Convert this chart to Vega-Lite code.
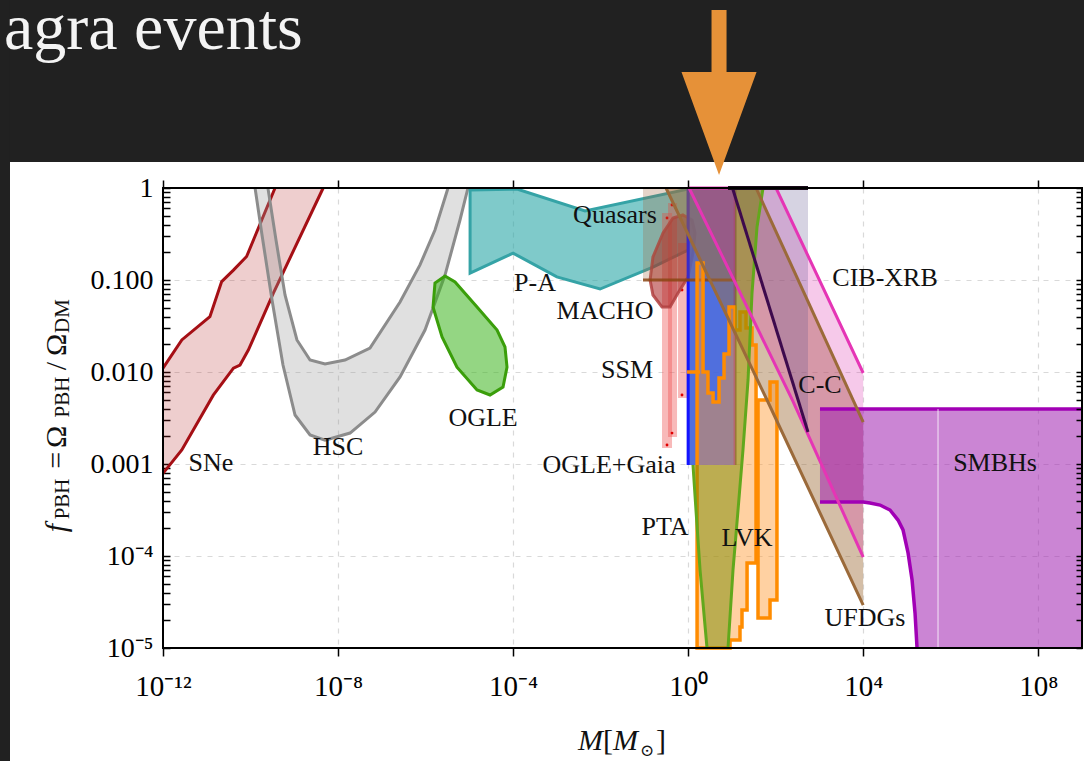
{
  "$schema": "https://vega.github.io/schema/vega-lite/v6.json",
  "width": 919,
  "height": 460,
  "autosize": {"type": "none"},
  "padding": {"left": 163, "top": 188, "right": 2, "bottom": 113},
  "background": "#ffffff",
  "config": {"view": {"stroke": null}, "font": "Liberation Serif"},
  "datasets": {
    "backdrop": [
      {"M": 1e-17, "M2": 1e12, "f": 1.917, "f2": 1e6},
      {"M": 1e-17, "M2": 3.19e-16, "f": 1e-9, "f2": 1e6}
    ],
    "sne": [
      {"g": "hi", "i": 1, "M": 1e-12, "f": 0.011},
      {"g": "hi", "i": 2, "M": 2.69e-12, "f": 0.0223},
      {"g": "hi", "i": 3, "M": 1.18e-11, "f": 0.0399},
      {"g": "hi", "i": 4, "M": 2.19e-11, "f": 0.096},
      {"g": "hi", "i": 5, "M": 4.07e-11, "f": 0.128},
      {"g": "hi", "i": 6, "M": 8.13e-11, "f": 0.18},
      {"g": "hi", "i": 7, "M": 3.63e-10, "f": 1},
      {"g": "lo", "i": 8, "M": 4.57e-9, "f": 1},
      {"g": "lo", "i": 9, "M": 3.31e-10, "f": 0.0716},
      {"g": "lo", "i": 10, "M": 8.91e-11, "f": 0.0173},
      {"g": "lo", "i": 11, "M": 5.75e-11, "f": 0.0119},
      {"g": "lo", "i": 12, "M": 4.07e-11, "f": 0.011},
      {"g": "lo", "i": 13, "M": 1.41e-11, "f": 0.0056},
      {"g": "lo", "i": 14, "M": 2.69e-12, "f": 0.00142},
      {"g": "lo", "i": 15, "M": 1e-12, "f": 0.00079}
    ],
    "hsc": [
      {"g": "a", "i": 1, "M": 1.27e-10, "f": 1},
      {"g": "a", "i": 2, "M": 1.83e-10, "f": 0.308},
      {"g": "a", "i": 3, "M": 3.1e-10, "f": 0.0607},
      {"g": "a", "i": 4, "M": 5.52e-10, "f": 0.0119},
      {"g": "a", "i": 5, "M": 1.04e-9, "f": 0.00341},
      {"g": "a", "i": 6, "M": 2.29e-9, "f": 0.00207},
      {"g": "a", "i": 7, "M": 5.04e-9, "f": 0.00182},
      {"g": "a", "i": 8, "M": 1.88e-8, "f": 0.00217},
      {"g": "a", "i": 9, "M": 7.0e-8, "f": 0.00367},
      {"g": "a", "i": 10, "M": 2.61e-7, "f": 0.00883},
      {"g": "a", "i": 11, "M": 9.7e-7, "f": 0.0286},
      {"g": "a", "i": 12, "M": 2.78e-6, "f": 0.113},
      {"g": "a", "i": 13, "M": 6.12e-6, "f": 0.449},
      {"g": "a", "i": 14, "M": 9.3e-6, "f": 1},
      {"g": "b", "i": 15, "M": 3.26e-6, "f": 1},
      {"g": "b", "i": 16, "M": 1.64e-6, "f": 0.349},
      {"g": "b", "i": 17, "M": 7.46e-7, "f": 0.146},
      {"g": "b", "i": 18, "M": 2.61e-7, "f": 0.0577},
      {"g": "b", "i": 19, "M": 5.37e-8, "f": 0.0182},
      {"g": "b", "i": 20, "M": 1.44e-8, "f": 0.0135},
      {"g": "b", "i": 21, "M": 5.04e-9, "f": 0.0122},
      {"g": "b", "i": 22, "M": 2.29e-9, "f": 0.0135},
      {"g": "b", "i": 23, "M": 1.15e-9, "f": 0.0223},
      {"g": "b", "i": 24, "M": 6.14e-10, "f": 0.0687},
      {"g": "b", "i": 25, "M": 3.82e-10, "f": 0.272},
      {"g": "b", "i": 26, "M": 2.5e-10, "f": 1}
    ],
    "ogle": [
      {"i": 1, "M": 2.78e-6, "f": 0.1104},
      {"i": 2, "M": 4.71e-6, "f": 0.0951},
      {"i": 3, "M": 1.5e-5, "f": 0.0509},
      {"i": 4, "M": 4.3e-5, "f": 0.0286},
      {"i": 5, "M": 6.53e-5, "f": 0.0187},
      {"i": 6, "M": 7.26e-5, "f": 0.0113},
      {"i": 7, "M": 5.89e-5, "f": 0.00687},
      {"i": 8, "M": 2.97e-5, "f": 0.00562},
      {"i": 9, "M": 1.5e-5, "f": 0.00637},
      {"i": 10, "M": 5.22e-6, "f": 0.0113},
      {"i": 11, "M": 2.38e-6, "f": 0.024},
      {"i": 12, "M": 1.48e-6, "f": 0.0509},
      {"i": 13, "M": 1.64e-6, "f": 0.0927}
    ],
    "quasars": [
      {"i": 1, "M": 1.04e-5, "f": 0.95},
      {"i": 2, "M": 1.23e-4, "f": 0.975},
      {"i": 3, "M": 4.4e-3, "f": 0.562},
      {"i": 4, "M": 1.0, "f": 0.975},
      {"i": 5, "M": 1.0, "f": 0.212},
      {"i": 6, "M": 0.157, "f": 0.138},
      {"i": 7, "M": 9.7e-3, "f": 0.0798},
      {"i": 8, "M": 1.0e-3, "f": 0.108},
      {"i": 9, "M": 1.0e-4, "f": 0.196},
      {"i": 10, "M": 1.04e-5, "f": 0.119}
    ],
    "ssm": [
      {"M": 0.253, "M2": 0.428, "f": 0.00149, "f2": 0.535},
      {"M": 0.347, "M2": 0.557, "f": 0.00197, "f2": 0.687},
      {"M": 0.588, "M2": 0.942, "f": 0.00521, "f2": 0.252}
    ],
    "ssm_dots": [
      {"M": 0.428, "f": 0.653},
      {"M": 0.329, "f": 0.472},
      {"M": 0.724, "f": 0.0778},
      {"M": 0.724, "f": 0.00562},
      {"M": 0.428, "f": 0.00217},
      {"M": 0.329, "f": 0.00161}
    ],
    "macho": [
      {"i": 1, "M": 0.764, "f": 0.509},
      {"i": 2, "M": 1.23, "f": 0.449},
      {"i": 3, "M": 1.44, "f": 0.324},
      {"i": 4, "M": 1.29, "f": 0.196},
      {"i": 5, "M": 0.993, "f": 0.108},
      {"i": 6, "M": 0.588, "f": 0.0723},
      {"i": 7, "M": 0.385, "f": 0.0509},
      {"i": 8, "M": 0.253, "f": 0.0509},
      {"i": 9, "M": 0.157, "f": 0.0687},
      {"i": 10, "M": 0.135, "f": 0.1},
      {"i": 11, "M": 0.157, "f": 0.178},
      {"i": 12, "M": 0.267, "f": 0.324},
      {"i": 13, "M": 0.451, "f": 0.472}
    ],
    "gaia": [{"M": 1, "M2": 11.8, "f": 0.000975, "f2": 1}],
    "gaia_edges": [
      {"g": "left", "M": 1, "f": 0.000975, "f2": 1},
      {"g": "right", "M": 11.8, "f": 0.000975, "f2": 1}
    ],
    "eros": [{"M": 0.093, "M2": 11.8, "f": 0.1, "f2": 1}],
    "ufdg": [
      {"g": "lo", "i": 1, "M": 0.312, "f": 1},
      {"g": "lo", "i": 2, "M": 63.5, "f": 0.00496},
      {"g": "lo", "i": 3, "M": 1e4, "f": 2.93e-5},
      {"g": "hi", "i": 4, "M": 1e4, "f": 0.00286},
      {"g": "hi", "i": 5, "M": 35.6, "f": 1}
    ],
    "cib": [
      {"g": "lo", "i": 1, "M": 1.05, "f": 1},
      {"g": "lo", "i": 2, "M": 249, "f": 0.0048},
      {"g": "lo", "i": 3, "M": 1e4, "f": 9.75e-5},
      {"g": "hi", "i": 4, "M": 1e4, "f": 0.00975},
      {"g": "hi", "i": 5, "M": 102, "f": 1},
      {"g": "hi", "i": 6, "M": 1.05, "f": 1}
    ],
    "cc": [
      {"i": 1, "M": 10.3, "f": 1},
      {"i": 2, "M": 548, "f": 1},
      {"i": 3, "M": 548, "f": 0.00223}
    ],
    "cc_line": [
      {"i": 1, "M": 10.3, "f": 1},
      {"i": 2, "M": 548, "f": 0.00223}
    ],
    "top_bar": [
      {"i": 1, "M": 8.15, "f": 1},
      {"i": 2, "M": 548, "f": 1}
    ],
    "lvk": [
      {"g": "main", "i": 1, "M": 1.6, "f": 0.153},
      {"g": "main", "i": 2, "M": 2.19, "f": 0.153},
      {"g": "main", "i": 3, "M": 2.19, "f": 0.01},
      {"g": "main", "i": 4, "M": 2.84, "f": 0.01},
      {"g": "main", "i": 5, "M": 2.84, "f": 0.00591},
      {"g": "main", "i": 6, "M": 3.71, "f": 0.00591},
      {"g": "main", "i": 7, "M": 3.71, "f": 0.00472},
      {"g": "main", "i": 8, "M": 5.08, "f": 0.00472},
      {"g": "main", "i": 9, "M": 5.08, "f": 0.00861},
      {"g": "main", "i": 10, "M": 6.61, "f": 0.00861},
      {"g": "main", "i": 11, "M": 6.61, "f": 0.0157},
      {"g": "main", "i": 12, "M": 8.59, "f": 0.0157},
      {"g": "main", "i": 13, "M": 8.59, "f": 0.0509},
      {"g": "main", "i": 14, "M": 11.78, "f": 0.0509},
      {"g": "main", "i": 15, "M": 11.78, "f": 0.0286},
      {"g": "main", "i": 16, "M": 15.3, "f": 0.0286},
      {"g": "main", "i": 17, "M": 15.3, "f": 0.0449},
      {"g": "main", "i": 18, "M": 21.0, "f": 0.0449},
      {"g": "main", "i": 19, "M": 21.0, "f": 0.0301},
      {"g": "main", "i": 20, "M": 28.8, "f": 0.0301},
      {"g": "main", "i": 21, "M": 28.8, "f": 0.0197},
      {"g": "main", "i": 22, "M": 35.6, "f": 0.0197},
      {"g": "main", "i": 23, "M": 35.6, "f": 8.39e-5},
      {"g": "main", "i": 24, "M": 22.2, "f": 8.39e-5},
      {"g": "main", "i": 25, "M": 22.2, "f": 2.59e-5},
      {"g": "main", "i": 26, "M": 17.0, "f": 2.59e-5},
      {"g": "main", "i": 27, "M": 17.0, "f": 1.69e-5},
      {"g": "main", "i": 28, "M": 15.3, "f": 1.69e-5},
      {"g": "main", "i": 29, "M": 15.3, "f": 1.22e-5},
      {"g": "main", "i": 30, "M": 9.06, "f": 1.22e-5},
      {"g": "main", "i": 31, "M": 9.06, "f": 1e-5},
      {"g": "main", "i": 32, "M": 1.6, "f": 1e-5},
      {"g": "tail", "i": 33, "M": 39.5, "f": 0.00496},
      {"g": "tail", "i": 34, "M": 74.3, "f": 0.00496},
      {"g": "tail", "i": 35, "M": 74.3, "f": 0.00778},
      {"g": "tail", "i": 36, "M": 107, "f": 0.00778},
      {"g": "tail", "i": 37, "M": 107, "f": 3.32e-5},
      {"g": "tail", "i": 38, "M": 74.3, "f": 3.32e-5},
      {"g": "tail", "i": 39, "M": 74.3, "f": 2.12e-5},
      {"g": "tail", "i": 40, "M": 39.5, "f": 2.12e-5}
    ],
    "lvk_stub": [
      {"i": 1, "M": 0.942, "f": 0.01},
      {"i": 2, "M": 1.87, "f": 0.01}
    ],
    "pta": [
      {"g": "right", "i": 1, "M": 51.4, "f": 1},
      {"g": "right", "i": 2, "M": 37.5, "f": 0.377},
      {"g": "right", "i": 3, "M": 28.8, "f": 0.0722},
      {"g": "right", "i": 4, "M": 23.4, "f": 0.00819},
      {"g": "right", "i": 5, "M": 17.9, "f": 0.00142},
      {"g": "right", "i": 6, "M": 13.8, "f": 0.000316},
      {"g": "right", "i": 7, "M": 10.6, "f": 7.05e-5},
      {"g": "right", "i": 8, "M": 8.15, "f": 1e-5},
      {"g": "left", "i": 9, "M": 2.7, "f": 1e-5},
      {"g": "left", "i": 10, "M": 1.87, "f": 7.05e-5},
      {"g": "left", "i": 11, "M": 1.51, "f": 0.000316},
      {"g": "left", "i": 12, "M": 1.29, "f": 0.000975},
      {"g": "clip", "i": 13, "M": 11.8, "f": 0.000975},
      {"g": "clip", "i": 14, "M": 11.8, "f": 1}
    ],
    "smbh": [
      {"g": "top", "i": 1, "M": 1030, "f": 0.00396},
      {"g": "top", "i": 2, "M": 1e9, "f": 0.00396},
      {"g": "edge", "i": 3, "M": 1e9, "f": 1e-5},
      {"g": "inner", "i": 4, "M": 1.7e5, "f": 1e-5},
      {"g": "inner", "i": 5, "M": 1.53e5, "f": 2.4e-5},
      {"g": "inner", "i": 6, "M": 1.31e5, "f": 5.48e-5},
      {"g": "inner", "i": 7, "M": 1.06e5, "f": 1.08e-4},
      {"g": "inner", "i": 8, "M": 8.13e4, "f": 1.92e-4},
      {"g": "inner", "i": 9, "M": 6.25e4, "f": 2.46e-4},
      {"g": "inner", "i": 10, "M": 4.1e4, "f": 3.16e-4},
      {"g": "inner", "i": 11, "M": 2.43e4, "f": 3.58e-4},
      {"g": "inner", "i": 12, "M": 1.43e4, "f": 3.77e-4},
      {"g": "inner", "i": 13, "M": 1e4, "f": 3.86e-4},
      {"g": "inner", "i": 14, "M": 1030, "f": 3.86e-4}
    ],
    "seam": [{"M": 5.13e5, "f": 1e-5, "f2": 0.00396}],
    "frame": [{"M": 1e-12, "M2": 1e9, "f": 1e-5, "f2": 1}],
    "labels": [
      {"t": "SNe", "M": 1.25e-11, "f": 0.00103},
      {"t": "HSC", "M": 1e-8, "f": 0.00153},
      {"t": "OGLE", "M": 2.06e-5, "f": 0.00316},
      {"t": "P-A", "M": 3.17e-4, "f": 0.0927},
      {"t": "Quasars", "M": 0.0213, "f": 0.509},
      {"t": "MACHO", "M": 0.0126, "f": 0.046},
      {"t": "SSM", "M": 0.0401, "f": 0.0105},
      {"t": "OGLE+Gaia", "M": 0.0156, "f": 0.000975},
      {"t": "PTA", "M": 0.296, "f": 0.000207},
      {"t": "LVK", "M": 22.2, "f": 0.000157},
      {"t": "UFDGs", "M": 1.1e4, "f": 2.12e-5},
      {"t": "SMBHs", "M": 1.03e7, "f": 0.00103},
      {"t": "C-C", "M": 1030, "f": 0.00722},
      {"t": "CIB-XRB", "M": 3.16e4, "f": 0.105}
    ],
    "ytitle_big": [
      {"t": "=", "M": 6.07e-15, "f": 0.0011},
      {"t": "Ω", "M": 6.07e-15, "f": 0.00197},
      {"t": "/", "M": 6.07e-15, "f": 0.0116},
      {"t": "Ω", "M": 6.07e-15, "f": 0.0197}
    ],
    "ytitle_it": [{"t": "f", "M": 6.07e-15, "f": 0.000201}],
    "ytitle_sub": [
      {"t": "PBH", "M": 7.11e-15, "f": 0.000417},
      {"t": "PBH", "M": 7.11e-15, "f": 0.00535},
      {"t": "DM", "M": 7.11e-15, "f": 0.0406}
    ],
    "xtitle_it": [
      {"t": "M", "M": 0.00587, "f": 7.78e-7},
      {"t": "M", "M": 0.0371, "f": 7.78e-7}
    ],
    "xtitle_up": [
      {"t": "[", "M": 0.0148, "f": 7.78e-7},
      {"t": "]", "M": 0.24, "f": 7.78e-7}
    ],
    "xtitle_sub": [{"t": "⊙", "M": 0.115, "f": 6.7e-7}],
    "slide_title": [{"t": "agra events", "M": 2.33e-16, "f": 32.4}],
    "arrow": [{"M": 5.08, "f": 10.9}]
  },
  "encoding": {
    "x": {"field": "M", "type": "quantitative", "scale": {"type": "log", "domain": [1e-12, 1e9], "nice": false}, "axis": null},
    "y": {"field": "f", "type": "quantitative", "scale": {"type": "log", "domain": [1e-5, 1], "nice": false}, "axis": null}
  },
  "layer": [
    {"data": {"name": "backdrop"}, "mark": {"type": "rect", "fill": "#212121"},
     "encoding": {"x2": {"field": "M2"}, "y2": {"field": "f2"}}},
    {"data": {"name": "sne"},
     "mark": {"type": "line", "interpolate": "linear-closed", "fill": "#b22222", "fillOpacity": 0.22, "strokeWidth": 0},
     "encoding": {
       "x": {"field": "M", "type": "quantitative", "scale": {"type": "log", "domain": [1e-12, 1e9], "nice": false},
             "axis": {"orient": "bottom", "values": [1e-12, 1e-8, 1e-4, 1, 1e4, 1e8],
                      "labelExpr": "datum.value < 1e-10 ? '10⁻¹²' : datum.value < 1e-6 ? '10⁻⁸' : datum.value < 0.01 ? '10⁻⁴' : datum.value < 100 ? '10⁰' : datum.value < 1e6 ? '10⁴' : '10⁸'",
                      "labelFont": "Liberation Serif", "labelFontSize": 29, "labelColor": "#000000", "labelPadding": 16,
                      "labelFlush": false, "labelOverlap": false, "tickSize": 8, "tickColor": "#000000", "tickWidth": 1.5,
                      "domain": false, "grid": true, "gridColor": "#d9d9d9", "gridDash": [5, 6], "gridWidth": 1.2,
                      "title": null, "zindex": 0}},
       "y": {"field": "f", "type": "quantitative", "scale": {"type": "log", "domain": [1e-5, 1], "nice": false},
             "axis": {"orient": "left",
                      "values": [1e-5, 2e-5, 3e-5, 4e-5, 5e-5, 6e-5, 7e-5, 8e-5, 9e-5, 1e-4, 2e-4, 3e-4, 4e-4, 5e-4, 6e-4, 7e-4, 8e-4, 9e-4, 0.001, 0.002, 0.003, 0.004, 0.005, 0.006, 0.007, 0.008, 0.009, 0.01, 0.02, 0.03, 0.04, 0.05, 0.06, 0.07, 0.08, 0.09, 0.1, 0.2, 0.3, 0.4, 0.5, 0.6, 0.7, 0.8, 0.9, 1],
                      "labelExpr": "abs(log(datum.value)/LN10 - round(log(datum.value)/LN10)) > 0.01 ? '' : datum.value > 0.5 ? '1' : datum.value > 0.05 ? '0.100' : datum.value > 0.005 ? '0.010' : datum.value > 0.0005 ? '0.001' : datum.value > 0.00005 ? '10⁻⁴' : '10⁻⁵'",
                      "labelFont": "Liberation Serif", "labelFontSize": 28, "labelColor": "#000000", "labelPadding": 17,
                      "labelFlush": false, "labelOverlap": false, "tickSize": -7, "tickColor": "#000000", "tickWidth": 1.5,
                      "domain": false, "grid": true, "gridColor": "#d9d9d9", "gridDash": [5, 6], "gridWidth": 1.2,
                      "gridOpacity": {"condition": {"test": "abs(log(datum.value)/LN10 - round(log(datum.value)/LN10)) < 0.01", "value": 1}, "value": 0},
                      "title": null, "zindex": 0}},
       "order": {"field": "i", "type": "quantitative"}}},
    {"data": {"name": "sne"}, "mark": {"type": "line", "stroke": "#a50f15", "strokeWidth": 3},
     "encoding": {"detail": {"field": "g"}, "order": {"field": "i", "type": "quantitative"}}},
    {"data": {"name": "hsc"},
     "mark": {"type": "line", "interpolate": "linear-closed", "fill": "#999999", "fillOpacity": 0.3, "strokeWidth": 0},
     "encoding": {
       "x": {"field": "M", "type": "quantitative", "scale": {"type": "log", "domain": [1e-12, 1e9], "nice": false},
             "axis": {"orient": "top", "values": [1e-12, 1e-8, 1e-4, 1, 1e4, 1e8], "labels": false, "tickSize": 8,
                      "tickColor": "#000000", "tickWidth": 1.5, "domain": false, "grid": false, "title": null, "zindex": 1}},
       "y": {"field": "f", "type": "quantitative", "scale": {"type": "log", "domain": [1e-5, 1], "nice": false},
             "axis": {"orient": "right",
                      "values": [1e-5, 2e-5, 3e-5, 4e-5, 5e-5, 6e-5, 7e-5, 8e-5, 9e-5, 1e-4, 2e-4, 3e-4, 4e-4, 5e-4, 6e-4, 7e-4, 8e-4, 9e-4, 0.001, 0.002, 0.003, 0.004, 0.005, 0.006, 0.007, 0.008, 0.009, 0.01, 0.02, 0.03, 0.04, 0.05, 0.06, 0.07, 0.08, 0.09, 0.1, 0.2, 0.3, 0.4, 0.5, 0.6, 0.7, 0.8, 0.9, 1],
                      "labels": false, "tickSize": -6, "tickColor": "#000000", "tickWidth": 1.5, "domain": false,
                      "grid": false, "title": null, "zindex": 1}},
       "order": {"field": "i", "type": "quantitative"}}},
    {"data": {"name": "hsc"}, "mark": {"type": "line", "stroke": "#8c8c8c", "strokeWidth": 3},
     "encoding": {"detail": {"field": "g"}, "order": {"field": "i", "type": "quantitative"}}},
    {"data": {"name": "ogle"},
     "mark": {"type": "line", "interpolate": "linear-closed", "fill": "#3cb41e", "fillOpacity": 0.55, "stroke": "#3a9e0a", "strokeWidth": 3},
     "encoding": {"order": {"field": "i", "type": "quantitative"}}},
    {"data": {"name": "quasars"},
     "mark": {"type": "line", "interpolate": "linear-closed", "fill": "#2aa7a7", "fillOpacity": 0.6, "stroke": "#35a3a6", "strokeWidth": 3},
     "encoding": {"order": {"field": "i", "type": "quantitative"}}},
    {"data": {"name": "ssm"}, "mark": {"type": "rect", "fill": "#ee5050", "opacity": 0.4},
     "encoding": {"x2": {"field": "M2"}, "y2": {"field": "f2"}}},
    {"data": {"name": "ssm_dots"}, "mark": {"type": "point", "filled": true, "fill": "#e00000", "size": 8, "opacity": 1, "strokeWidth": 0},
     "encoding": {}},
    {"data": {"name": "macho"},
     "mark": {"type": "line", "interpolate": "linear-closed", "fill": "#a82020", "fillOpacity": 0.55, "stroke": "#b04040", "strokeOpacity": 0.85, "strokeWidth": 3},
     "encoding": {"order": {"field": "i", "type": "quantitative"}}},
    {"data": {"name": "gaia"}, "mark": {"type": "rect", "fill": "#3d5fd9", "opacity": 0.9},
     "encoding": {"x2": {"field": "M2"}, "y2": {"field": "f2"}}},
    {"data": {"name": "gaia_edges"}, "mark": {"type": "rule", "strokeWidth": 3},
     "encoding": {"y2": {"field": "f2"},
                  "color": {"field": "g", "type": "nominal", "scale": {"domain": ["left", "right"], "range": ["#1414ff", "#7b3f9e"]}, "legend": null}}},
    {"data": {"name": "eros"}, "mark": {"type": "rect", "fill": "#a0643c", "opacity": 0.28},
     "encoding": {"x2": {"field": "M2"}, "y2": {"field": "f2"}}},
    {"data": {"name": "eros"}, "mark": {"type": "rule", "stroke": "#8b4513", "strokeWidth": 3, "opacity": 0.85},
     "encoding": {"x2": {"field": "M2"}}},
    {"data": {"name": "ufdg"},
     "mark": {"type": "line", "interpolate": "linear-closed", "fill": "#a06e3c", "fillOpacity": 0.45, "strokeWidth": 0},
     "encoding": {"order": {"field": "i", "type": "quantitative"}}},
    {"data": {"name": "cib"},
     "mark": {"type": "line", "interpolate": "linear-closed", "fill": "#dc28aa", "fillOpacity": 0.25, "strokeWidth": 0},
     "encoding": {"order": {"field": "i", "type": "quantitative"}}},
    {"data": {"name": "cc"},
     "mark": {"type": "line", "interpolate": "linear-closed", "fill": "#5a508c", "fillOpacity": 0.25, "strokeWidth": 0},
     "encoding": {"order": {"field": "i", "type": "quantitative"}}},
    {"data": {"name": "lvk"},
     "mark": {"type": "line", "interpolate": "linear-closed", "fill": "#ff9a30", "fillOpacity": 0.45, "stroke": "#ff8c00", "strokeWidth": 3.5},
     "encoding": {"detail": {"field": "g"}, "order": {"field": "i", "type": "quantitative"}}},
    {"data": {"name": "lvk_stub"}, "mark": {"type": "line", "stroke": "#ff8c00", "strokeWidth": 3.5},
     "encoding": {"order": {"field": "i", "type": "quantitative"}}},
    {"data": {"name": "pta"},
     "mark": {"type": "line", "interpolate": "linear-closed", "fill": "#7a8a00", "fillOpacity": 0.5, "strokeWidth": 0},
     "encoding": {"order": {"field": "i", "type": "quantitative"}}},
    {"data": {"name": "pta"}, "transform": [{"filter": "datum.g != 'clip'"}],
     "mark": {"type": "line", "stroke": "#62a81c", "strokeWidth": 3},
     "encoding": {"detail": {"field": "g"}, "order": {"field": "i", "type": "quantitative"}}},
    {"data": {"name": "smbh"},
     "mark": {"type": "line", "interpolate": "linear-closed", "fill": "#a020b0", "fillOpacity": 0.55, "strokeWidth": 0},
     "encoding": {"order": {"field": "i", "type": "quantitative"}}},
    {"data": {"name": "smbh"}, "transform": [{"filter": "datum.g != 'edge'"}],
     "mark": {"type": "line", "stroke": "#a100b5", "strokeWidth": 3.5},
     "encoding": {"detail": {"field": "g"}, "order": {"field": "i", "type": "quantitative"}}},
    {"data": {"name": "seam"}, "mark": {"type": "rule", "stroke": "#ffffff", "strokeWidth": 1, "opacity": 0.8},
     "encoding": {"y2": {"field": "f2"}}},
    {"data": {"name": "ufdg"}, "mark": {"type": "line", "stroke": "#9b6a3a", "strokeWidth": 3},
     "encoding": {"detail": {"field": "g"}, "order": {"field": "i", "type": "quantitative"}}},
    {"data": {"name": "cib"}, "mark": {"type": "line", "stroke": "#e535b5", "strokeWidth": 3},
     "encoding": {"detail": {"field": "g"}, "order": {"field": "i", "type": "quantitative"}}},
    {"data": {"name": "cc_line"}, "mark": {"type": "line", "stroke": "#3d0a4d", "strokeWidth": 3},
     "encoding": {"order": {"field": "i", "type": "quantitative"}}},
    {"data": {"name": "top_bar"}, "mark": {"type": "line", "stroke": "#1a0a1a", "strokeWidth": 4},
     "encoding": {"order": {"field": "i", "type": "quantitative"}}},
    {"data": {"name": "frame"}, "mark": {"type": "rect", "filled": false, "stroke": "#000000", "strokeWidth": 2},
     "encoding": {"x2": {"field": "M2"}, "y2": {"field": "f2"}}},
    {"data": {"name": "labels"},
     "mark": {"type": "text", "font": "Liberation Serif", "fontSize": 26, "color": "#111111", "align": "center", "baseline": "middle"},
     "encoding": {"text": {"field": "t"}}},
    {"data": {"name": "ytitle_big"},
     "mark": {"type": "text", "font": "Liberation Serif", "fontSize": 30, "color": "#111111", "angle": 270, "align": "center", "baseline": "alphabetic"},
     "encoding": {"text": {"field": "t"}}},
    {"data": {"name": "ytitle_it"},
     "mark": {"type": "text", "font": "Liberation Serif", "fontStyle": "italic", "fontSize": 30, "color": "#111111", "angle": 270, "align": "center", "baseline": "alphabetic"},
     "encoding": {"text": {"field": "t"}}},
    {"data": {"name": "ytitle_sub"},
     "mark": {"type": "text", "font": "Liberation Serif", "fontSize": 21, "color": "#111111", "angle": 270, "align": "center", "baseline": "alphabetic"},
     "encoding": {"text": {"field": "t"}}},
    {"data": {"name": "xtitle_it"},
     "mark": {"type": "text", "font": "Liberation Serif", "fontStyle": "italic", "fontSize": 30, "color": "#111111", "align": "center", "baseline": "alphabetic"},
     "encoding": {"text": {"field": "t"}}},
    {"data": {"name": "xtitle_up"},
     "mark": {"type": "text", "font": "Liberation Serif", "fontSize": 30, "color": "#111111", "align": "center", "baseline": "alphabetic"},
     "encoding": {"text": {"field": "t"}}},
    {"data": {"name": "xtitle_sub"},
     "mark": {"type": "text", "font": "DejaVu Serif", "fontSize": 17, "color": "#111111", "align": "center", "baseline": "alphabetic"},
     "encoding": {"text": {"field": "t"}}},
    {"data": {"name": "slide_title"},
     "mark": {"type": "text", "font": "Liberation Serif", "fontSize": 66, "color": "#f4f4f4", "align": "left", "baseline": "alphabetic"},
     "encoding": {"text": {"field": "t"}}},
    {"data": {"name": "arrow"},
     "mark": {"type": "point", "shape": "M-0.091,-1L0.091,-1L0.091,-0.248L0.455,-0.248L0,1L-0.455,-0.248L-0.091,-0.248Z",
              "size": 27225, "filled": true, "fill": "#e69138", "opacity": 1, "strokeWidth": 0},
     "encoding": {}}
  ],
  "resolve": {"axis": {"x": "independent", "y": "independent"}}
}
